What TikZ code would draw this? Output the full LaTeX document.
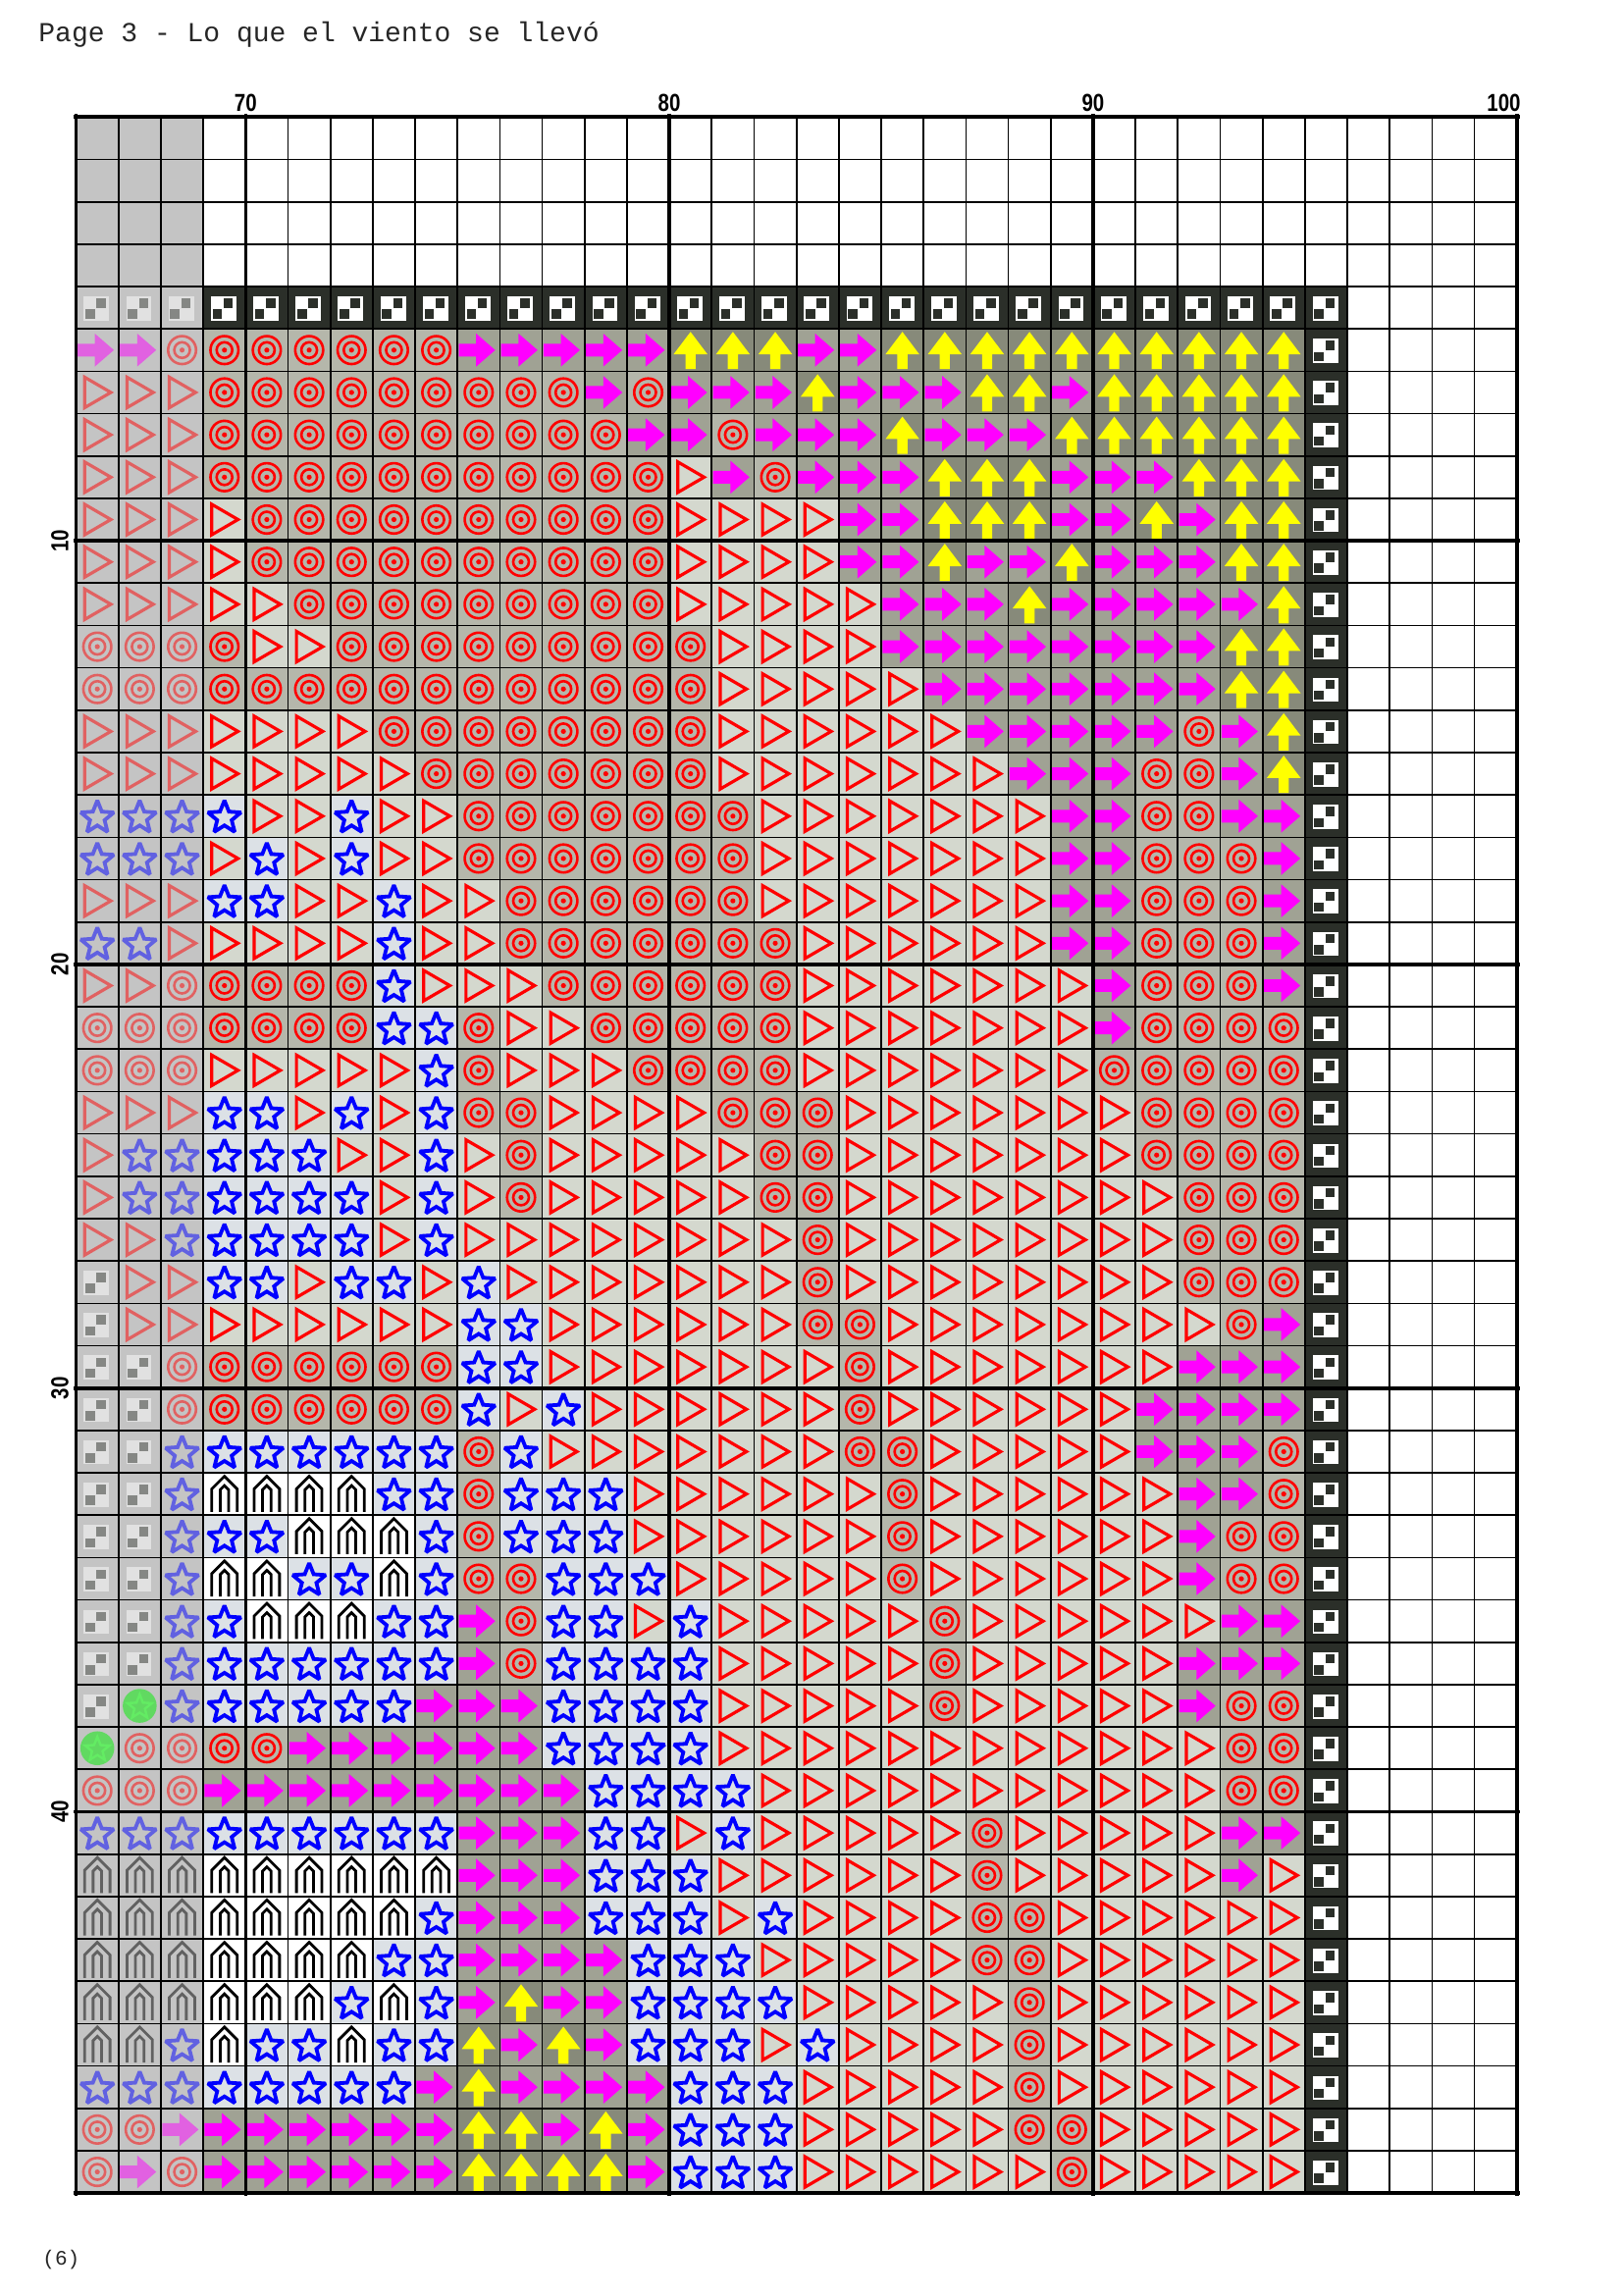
\documentclass[tikz,border=0pt]{standalone}
\usepackage{fontspec}
\newfontfamily\monof{Liberation Mono}
\newfontfamily\numf[FakeStretch=0.82]{Liberation Sans}
\definecolor{bgcC}{HTML}{B5B7AB}
\definecolor{bgtC}{HTML}{D4D8CE}
\definecolor{bgmC}{HTML}{A0A294}
\definecolor{bgyC}{HTML}{878A7A}
\definecolor{bgsC}{HTML}{DCE1E6}
\definecolor{bgTC}{HTML}{2B2F29}
\definecolor{fadeC}{HTML}{C4C4C4}
\definecolor{symRed}{HTML}{FF0000}
\definecolor{symMag}{HTML}{FF00FF}
\definecolor{symYel}{HTML}{FFFF00}
\definecolor{symBlue}{HTML}{0000FF}
\definecolor{symGreen}{HTML}{00EE00}
\definecolor{symGreenL}{HTML}{66FF66}
\tikzset{
  thingrid/.style={line width=0.85pt, black},
  boldgrid/.style={line width=1.8pt, black},
  tgtline/.style={symRed, line width=1.3pt},
  triline/.style={symRed, line width=1.6pt, line join=miter},
  starline/.style={symBlue, line width=1.9pt, line join=miter, miter limit=2.2},
  archline/.style={black, line width=1.4pt, line join=miter},
  collabel/.style={font=\numf\bfseries\fontsize{12.5}{14}\selectfont, anchor=base, inner sep=0pt},
  rowlabel/.style={font=\numf\bfseries\fontsize{12.5}{14}\selectfont, rotate=90, inner sep=0pt},
}
% backgrounds
\newcommand\XBc{\fill[bgcC] (-.5,-.5) rectangle (.5,.5);}
\newcommand\XBt{\fill[bgtC] (-.5,-.5) rectangle (.5,.5);}
\newcommand\XBm{\fill[bgmC] (-.5,-.5) rectangle (.5,.5);}
\newcommand\XBy{\fill[bgyC] (-.5,-.5) rectangle (.5,.5);}
\newcommand\XBs{\fill[bgsC] (-.5,-.5) rectangle (.5,.5);}
\newcommand\XBa{\fill[white] (-.5,-.5) rectangle (.5,.5);}
\newcommand\XBT{\fill[bgTC] (-.5,-.5) rectangle (.5,.5);}
\newcommand\XBg{\fill[fadeC] (-.5,-.5) rectangle (.5,.5);}
\newcommand\XBe{}
% foreground symbols
\newcommand\XFc{\draw[tgtline] (0,0) circle (.33) (0,0) circle (.185); \fill[symRed] (0,0) circle (.06);}
\newcommand\XFt{\draw[triline] (-.3,.36) -- (.32,0) -- (-.3,-.36) -- cycle;}
\newcommand\XFm{\fill[symMag] (-.47,.15) -- (-.06,.15) -- (-.06,.39) -- (.39,0) -- (-.06,-.39) -- (-.06,-.15) -- (-.47,-.15) -- cycle;}
\newcommand\XFy{\fill[symYel] (-.12,-.45) -- (-.12,-.1) -- (-.4,-.1) -- (0,.43) -- (.4,-.1) -- (.12,-.1) -- (.12,-.45) -- cycle;}
\newcommand\XFs{\draw[starline, shift={(0,-.04)}] (90:.41) -- (126:.18) -- (162:.41) -- (198:.18) -- (234:.41) -- (270:.18) -- (306:.41) -- (342:.18) -- (18:.41) -- (54:.18) -- cycle;}
\newcommand\XFa{\draw[archline] (-.3,-.42) -- (-.3,.12) -- (0,.42) -- (.3,.12) -- (.3,-.42); \draw[archline] (-.1,-.42) -- (-.1,.1) -- (0,.2) -- (.1,.1) -- (.1,-.42);}
\newcommand\XFT{\fill[white] (-.32,-.3) rectangle (.28,.27); \fill[bgTC] (-.02,0) rectangle (.2,.22); \fill[bgTC] (-.28,-.26) rectangle (-.06,-.04);}
\newcommand\XFg{\fill[symGreen] (0,0) circle (.4); \draw[symGreenL, line width=1.2pt, line join=miter, shift={(0,-.03)}] (90:.3) -- (126:.13) -- (162:.3) -- (198:.13) -- (234:.3) -- (270:.13) -- (306:.3) -- (342:.13) -- (18:.3) -- (54:.13) -- cycle;}
\newcommand\XFe{}
\begin{document}
\begin{tikzpicture}[x=0.5pt,y=-0.5pt]
\useasboundingbox (0,0) rectangle (1654,2339);
\fill[white] (0,0) rectangle (1654,2339);
\node[font=\monof\fontsize{14}{16}\selectfont, anchor=base west, inner sep=0pt, text=black!85] (title) at (39,43) {Page 3 - Lo que el viento se llevó};
\node[font=\monof\fontsize{10.5}{12}\selectfont, anchor=base west, inner sep=0pt, text=black!85] (pagenum) at (43,2308) {(6)};
\node[collabel] (c70) at (250.3,113) {70};
\node[collabel] (c80) at (682.1,113) {80};
\node[collabel] (c90) at (1113.9,113) {90};
\node[collabel, anchor=base east] (c100) at (1550,113) {100};
\node[rowlabel] (r10) at (61,551.1) {10};
\node[rowlabel] (r20) at (61,982.9) {20};
\node[rowlabel] (r30) at (61,1414.7) {30};
\node[rowlabel] (r40) at (61,1846.5) {40};
\begin{scope}[shift={(77.6,119.3)}, x=21.59pt, y=-21.59pt]
  \fill[fadeC] (0,0) rectangle (3,4);
  \foreach \r [count=\j from 4] in {%
{T,T,T,T,T,T,T,T,T,T,T,T,T,T,T,T,T,T,T,T,T,T,T,T,T,T,T,T,T},%
{m,m,c,c,c,c,c,c,c,m,m,m,m,m,y,y,y,m,m,y,y,y,y,y,y,y,y,y,y},%
{t,t,t,c,c,c,c,c,c,c,c,c,m,c,m,m,m,y,m,m,m,y,y,m,y,y,y,y,y},%
{t,t,t,c,c,c,c,c,c,c,c,c,c,m,m,c,m,m,m,y,m,m,m,y,y,y,y,y,y},%
{t,t,t,c,c,c,c,c,c,c,c,c,c,c,t,m,c,m,m,m,y,y,y,m,m,m,y,y,y},%
{t,t,t,t,c,c,c,c,c,c,c,c,c,c,t,t,t,t,m,m,y,y,y,m,m,y,m,y,y},%
{t,t,t,t,c,c,c,c,c,c,c,c,c,c,t,t,t,t,m,m,y,m,m,y,m,m,m,y,y},%
{t,t,t,t,t,c,c,c,c,c,c,c,c,c,t,t,t,t,t,m,m,m,y,m,m,m,m,m,y},%
{c,c,c,c,t,t,c,c,c,c,c,c,c,c,c,t,t,t,t,m,m,m,m,m,m,m,m,y,y},%
{c,c,c,c,c,c,c,c,c,c,c,c,c,c,c,t,t,t,t,t,m,m,m,m,m,m,m,y,y},%
{t,t,t,t,t,t,t,c,c,c,c,c,c,c,c,t,t,t,t,t,t,m,m,m,m,m,c,m,y},%
{t,t,t,t,t,t,t,t,c,c,c,c,c,c,c,t,t,t,t,t,t,t,m,m,m,c,c,m,y},%
{s,s,s,s,t,t,s,t,t,c,c,c,c,c,c,c,t,t,t,t,t,t,t,m,m,c,c,m,m},%
{s,s,s,t,s,t,s,t,t,c,c,c,c,c,c,c,t,t,t,t,t,t,t,m,m,c,c,c,m},%
{t,t,t,s,s,t,t,s,t,t,c,c,c,c,c,c,t,t,t,t,t,t,t,m,m,c,c,c,m},%
{s,s,t,t,t,t,t,s,t,t,c,c,c,c,c,c,c,t,t,t,t,t,t,m,m,c,c,c,m},%
{t,t,c,c,c,c,c,s,t,t,t,c,c,c,c,c,c,t,t,t,t,t,t,t,m,c,c,c,m},%
{c,c,c,c,c,c,c,s,s,c,t,t,c,c,c,c,c,t,t,t,t,t,t,t,m,c,c,c,c},%
{c,c,c,t,t,t,t,t,s,c,t,t,t,c,c,c,c,t,t,t,t,t,t,t,c,c,c,c,c},%
{t,t,t,s,s,t,s,t,s,c,c,t,t,t,t,c,c,c,t,t,t,t,t,t,t,c,c,c,c},%
{t,s,s,s,s,s,t,t,s,t,c,t,t,t,t,t,c,c,t,t,t,t,t,t,t,c,c,c,c},%
{t,s,s,s,s,s,s,t,s,t,c,t,t,t,t,t,c,c,t,t,t,t,t,t,t,t,c,c,c},%
{t,t,s,s,s,s,s,t,s,t,t,t,t,t,t,t,t,c,t,t,t,t,t,t,t,t,c,c,c},%
{T,t,t,s,s,t,s,s,t,s,t,t,t,t,t,t,t,c,t,t,t,t,t,t,t,t,c,c,c},%
{T,t,t,t,t,t,t,t,t,s,s,t,t,t,t,t,t,c,c,t,t,t,t,t,t,t,t,c,m},%
{T,T,c,c,c,c,c,c,c,s,s,t,t,t,t,t,t,t,c,t,t,t,t,t,t,t,m,m,m},%
{T,T,c,c,c,c,c,c,c,s,t,s,t,t,t,t,t,t,c,t,t,t,t,t,t,m,m,m,m},%
{T,T,s,s,s,s,s,s,s,c,s,t,t,t,t,t,t,t,c,c,t,t,t,t,t,m,m,m,c},%
{T,T,s,a,a,a,a,s,s,c,s,s,s,t,t,t,t,t,t,c,t,t,t,t,t,t,m,m,c},%
{T,T,s,s,s,a,a,a,s,c,s,s,s,t,t,t,t,t,t,c,t,t,t,t,t,t,m,c,c},%
{T,T,s,a,a,s,s,a,s,c,c,s,s,s,t,t,t,t,t,c,t,t,t,t,t,t,m,c,c},%
{T,T,s,s,a,a,a,s,s,m,c,s,s,t,s,t,t,t,t,t,c,t,t,t,t,t,t,m,m},%
{T,T,s,s,s,s,s,s,s,m,c,s,s,s,s,t,t,t,t,t,c,t,t,t,t,t,m,m,m},%
{T,g,s,s,s,s,s,s,m,m,m,s,s,s,s,t,t,t,t,t,c,t,t,t,t,t,m,c,c},%
{g,c,c,c,c,m,m,m,m,m,m,s,s,s,s,t,t,t,t,t,t,t,t,t,t,t,t,c,c},%
{c,c,c,m,m,m,m,m,m,m,m,m,s,s,s,s,t,t,t,t,t,t,t,t,t,t,t,c,c},%
{s,s,s,s,s,s,s,s,s,m,m,m,s,s,t,s,t,t,t,t,t,c,t,t,t,t,t,m,m},%
{a,a,a,a,a,a,a,a,a,m,m,m,s,s,s,t,t,t,t,t,t,c,t,t,t,t,t,m,t},%
{a,a,a,a,a,a,a,a,s,m,m,m,s,s,s,t,s,t,t,t,t,c,c,t,t,t,t,t,t},%
{a,a,a,a,a,a,a,s,s,m,m,m,m,s,s,s,t,t,t,t,t,c,c,t,t,t,t,t,t},%
{a,a,a,a,a,a,s,a,s,m,y,m,m,s,s,s,s,t,t,t,t,t,c,t,t,t,t,t,t},%
{a,a,s,a,s,s,a,s,s,y,m,y,m,s,s,s,t,s,t,t,t,t,c,t,t,t,t,t,t},%
{s,s,s,s,s,s,s,s,m,y,m,m,m,m,s,s,s,t,t,t,t,t,c,t,t,t,t,t,t},%
{c,c,m,m,m,m,m,m,m,y,y,m,y,m,s,s,s,t,t,t,t,t,c,c,t,t,t,t,t},%
{c,m,c,m,m,m,m,m,m,y,y,y,y,m,s,s,s,t,t,t,t,t,t,c,t,t,t,t,t}%
}{%
    \foreach \s [count=\i from 0] in \r {%
      \ifnum\i<3
        \fill[fadeC] (\i,\j) rectangle ++(1,1);
        \begin{scope}[shift={(\i+.5,\j+.5)}, yscale=-1, opacity=.5]\csname XF\s\endcsname\end{scope}
      \else
        \begin{scope}[shift={(\i+.5,\j+.5)}, yscale=-1]\csname XB\s\endcsname\csname XF\s\endcsname\end{scope}
      \fi
    }%
  }
  \foreach \j in {4,...,48} {%
    \begin{scope}[shift={(29.5,\j+.5)}, yscale=-1]\XBT\XFT\end{scope}
  }
  % grid
  \foreach \k in {0,...,34} \draw[thingrid] (\k,0) -- (\k,49);
  \foreach \k in {0,...,49} \draw[thingrid] (0,\k) -- (34,\k);
  \foreach \k in {0,4,14,24,34} \draw[boldgrid] (\k,-0.07) -- (\k,49.07);
  \foreach \k in {0,10,20,30,40,49} \draw[boldgrid] (-0.07,\k) -- (34.07,\k);
\end{scope}
\end{tikzpicture}
\end{document}
